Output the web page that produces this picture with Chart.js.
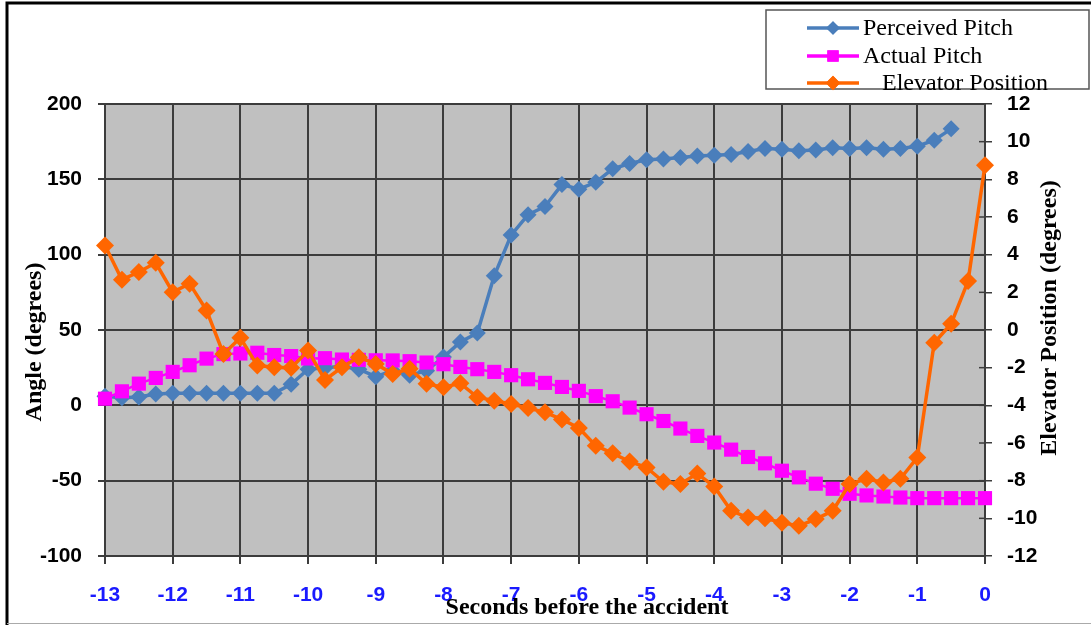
<!DOCTYPE html>
<html>
<head>
<meta charset="utf-8">
<script src="https://cdn.jsdelivr.net/npm/chart.js@4.4.1/dist/chart.umd.min.js"></script>
<style>
html,body{margin:0;padding:0;background:#fff;overflow:hidden}
#wrap{position:relative;width:1091px;height:625px}
</style>
</head>
<body>
<div id="wrap"><canvas id="c" width="1091" height="625"></canvas></div>
<script>
// ---- data ----
const seconds = [-13,-12.75,-12.5,-12.25,-12,-11.75,-11.5,-11.25,-11,-10.75,-10.5,-10.25,-10,
  -9.75,-9.5,-9.25,-9,-8.75,-8.5,-8.25,-8,-7.75,-7.5,-7.25,-7,
  -6.75,-6.5,-6.25,-6,-5.75,-5.5,-5.25,-5,-4.75,-4.5,-4.25,-4,
  -3.75,-3.5,-3.25,-3,-2.75,-2.5,-2.25,-2,-1.75,-1.5,-1.25,-1,
  -0.75,-0.5,-0.25,0];

const perceivedPitch = [6,5,5.5,7.5,8,8,8,8,8,8,8,14,24,
  25,26,24,19,23,20,23,32,42,48,86,113,
  126.5,132,146.5,143.5,148,157,160.5,163,163.5,164.5,165.5,166,
  166.5,168.5,170.5,170,169,169.5,171,170.5,171,170,170.5,172,
  176,183.5];

const actualPitch = [4.4,9.3,14.4,18.2,22.2,26.6,31,34,34.4,34.9,33.4,32.7,31.1,
  31.3,30.4,30.2,29.9,29.8,29.3,28.4,27.3,25.5,24,22.2,20,
  17.3,14.9,12.2,9.6,6.1,2.7,-1.5,-5.9,-10.4,-15.4,-20.3,-24.7,
  -29.4,-34.3,-38.5,-43.4,-47.8,-52,-55.4,-58.7,-59.8,-60.5,-61.2,-61.6,
  -61.6,-61.6,-61.6,-61.6];

const elevatorPosition = [4.49,2.67,3.08,3.57,2.01,2.46,1.04,-1.27,-0.41,-1.89,-1.98,-2.01,-1.09,
  -2.65,-1.98,-1.45,-1.8,-2.33,-2.06,-2.86,-3.04,-2.83,-3.57,-3.75,-3.93,
  -4.14,-4.37,-4.75,-5.2,-6.14,-6.55,-6.98,-7.3,-8.06,-8.18,-7.62,-8.31,
  -9.6,-9.96,-10,-10.23,-10.4,-10.04,-9.6,-8.18,-7.9,-8.1,-7.9,-6.77,
  -0.68,0.33,2.6,8.75];

const seriesNames = ['Perceived Pitch','Actual Pitch','Elevator Position'];
const xTitle = 'Seconds before the accident';
const leftTitle = 'Angle (degrees)';
const rightTitle = 'Elevator Position (degrees)';

// ---- styling ----
const BLUE = '#4a7ebb', MAGENTA = '#ff00ff', ORANGE = '#ff6600';
const GRID = '#3c3c3c';
const tickFont = {family:'"Liberation Sans", Arial, sans-serif', size:21, weight:'bold'};

const toXY = vals => vals.map((v,i) => ({x: seconds[i], y: v}));

const bgPlugin = {
  id:'bg',
  beforeDraw(chart){
    const {ctx, chartArea:a} = chart;
    ctx.save();
    ctx.fillStyle = '#ffffff';
    ctx.fillRect(0,0,chart.width,chart.height);
    ctx.fillStyle = '#c0c0c0';
    ctx.fillRect(a.left, a.top, a.right-a.left, a.bottom-a.top);
    ctx.restore();
  },
  beforeDatasetsDraw(chart){
    // inner half of the right-axis tick marks
    const {ctx, chartArea:a} = chart;
    const s = chart.scales.y2;
    ctx.save();
    ctx.strokeStyle = GRID; ctx.lineWidth = 1.5;
    s.ticks.forEach(t => {
      const y = s.getPixelForValue(t.value);
      ctx.beginPath(); ctx.moveTo(a.right - 6, y); ctx.lineTo(a.right, y); ctx.stroke();
    });
    ctx.restore();
  }
};

const decorPlugin = {
  id:'decor',
  afterDraw(chart){
    const ctx = chart.ctx;
    ctx.save();
    // frame
    ctx.strokeStyle = '#000';
    ctx.lineWidth = 3;
    ctx.beginPath();
    ctx.moveTo(7, 625); ctx.lineTo(7, 3); ctx.lineTo(1091, 3);
    ctx.stroke();
    ctx.strokeStyle = '#aaa'; ctx.lineWidth = 1;
    ctx.beginPath(); ctx.moveTo(7, 623.5); ctx.lineTo(1091, 623.5); ctx.stroke();

    // axis titles
    ctx.fillStyle = '#000';
    ctx.font = 'bold 24px "Liberation Serif", "Times New Roman", serif';
    ctx.textAlign = 'center';
    ctx.textBaseline = 'middle';
    ctx.fillText(xTitle, 587, 608);
    ctx.save(); ctx.translate(35, 342); ctx.rotate(-Math.PI/2); ctx.fillText(leftTitle, 0, 0); ctx.restore();
    ctx.save(); ctx.translate(1050, 318); ctx.rotate(-Math.PI/2); ctx.fillText(rightTitle, 0, 0); ctx.restore();

    // legend
    ctx.fillStyle = '#fff';
    ctx.fillRect(766, 10, 323, 79);
    ctx.strokeStyle = '#555'; ctx.lineWidth = 1.5;
    ctx.strokeRect(766, 10, 323, 79);
    const rows = [28, 56, 83];
    const textX = [863, 863, 882];
    chart.data.datasets.forEach((ds, i) => {
      const y = rows[i];
      ctx.strokeStyle = ds.borderColor; ctx.lineWidth = 3.5;
      ctx.beginPath(); ctx.moveTo(807, y); ctx.lineTo(859, y); ctx.stroke();
      ctx.fillStyle = ds.backgroundColor;
      Chart.helpers.drawPoint(ctx, {pointStyle: ds.pointStyle, radius: ds.pointRadius*0.8, borderWidth: 0, rotation: 0}, 833, y);
      ctx.fill();
      ctx.fillStyle = '#000';
      ctx.font = '24px "Liberation Serif", "Times New Roman", serif';
      ctx.textAlign = 'left'; ctx.textBaseline = 'middle';
      ctx.fillText(ds.label, textX[i], y + 1);
    });
    ctx.restore();
  }
};

new Chart(document.getElementById('c'), {
  type:'line',
  data:{
    datasets:[
      {label:seriesNames[0], data:toXY(perceivedPitch), yAxisID:'y', borderColor:BLUE, backgroundColor:BLUE,
       borderWidth:3.5, pointStyle:'rectRot', pointRadius:8.5, pointBorderWidth:0, order:3, clip:false},
      {label:seriesNames[1], data:toXY(actualPitch), yAxisID:'y', borderColor:MAGENTA, backgroundColor:MAGENTA,
       borderWidth:2.5, pointStyle:'rect', pointRadius:10, pointBorderWidth:0, order:2, clip:false},
      {label:seriesNames[2], data:toXY(elevatorPosition), yAxisID:'y2', borderColor:ORANGE, backgroundColor:ORANGE,
       borderWidth:3.5, pointStyle:'rectRot', pointRadius:9, pointBorderWidth:0, order:1, clip:false}
    ]
  },
  options:{
    responsive:false, animation:false, devicePixelRatio:1,
    layout:{padding:{top:104, left:0, right:0, bottom:0}},
    plugins:{legend:{display:false}, tooltip:{enabled:false}, title:{display:false}},
    elements:{line:{tension:0}},
    scales:{
      x:{type:'linear', position:'bottom', min:-13, max:0,
         ticks:{stepSize:1, color:'#1a1aff', font:tickFont, padding:19, maxRotation:0},
         grid:{color:GRID, lineWidth:2, tickLength:8},
         border:{color:GRID, width:2},
         afterFit(s){ s.height = 69; }},
      y:{type:'linear', position:'left', min:-100, max:200,
         ticks:{stepSize:50, color:'#000', font:tickFont, padding:16},
         grid:{color:GRID, lineWidth:2, tickLength:7},
         border:{color:GRID, width:2},
         afterFit(s){ s.width = 105; }},
      y2:{type:'linear', position:'right', min:-12, max:12,
         ticks:{stepSize:2, color:'#000', font:tickFont, padding:15},
         grid:{drawOnChartArea:false, color:GRID, lineWidth:1.5, tickLength:7},
         border:{color:GRID, width:2},
         afterFit(s){ s.width = 106; }}
    }
  },
  plugins:[bgPlugin, decorPlugin]
});
</script>
</body>
</html>
